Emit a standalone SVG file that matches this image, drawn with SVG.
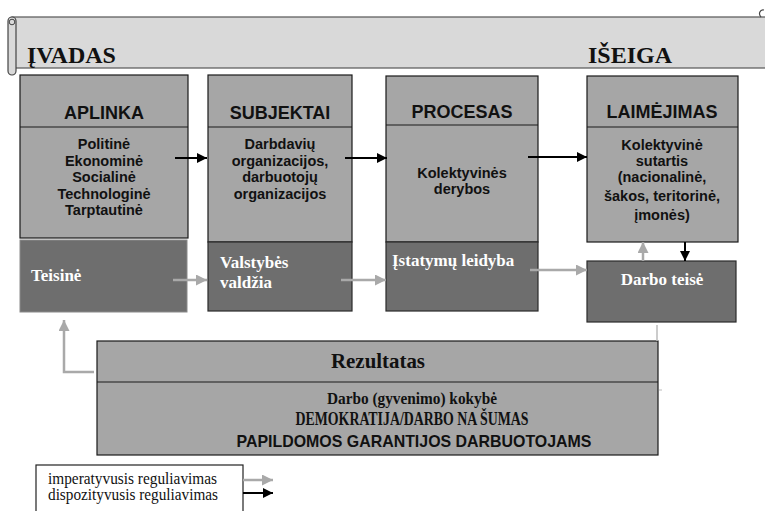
<svg xmlns="http://www.w3.org/2000/svg" width="765" height="511" viewBox="0 0 765 511">
<defs>
<style>
.light{fill:#a6a6a6;stroke:#1a1a1a;stroke-width:1.2}
.dark{fill:#6e6e6e;stroke:#2a2a2a;stroke-width:1.2}
.div{stroke:#1a1a1a;stroke-width:1.2}
.hd{font-family:"Liberation Sans",Arial,sans-serif;font-weight:bold;font-size:18px;fill:#111;text-anchor:middle}
.bd{font-family:"Liberation Sans",Arial,sans-serif;font-weight:bold;font-size:14.5px;fill:#111;text-anchor:middle}
.wt{font-family:"Liberation Serif","Times New Roman",serif;font-weight:bold;font-size:17px;fill:#fff}
.ti{font-family:"Liberation Serif","Times New Roman",serif;font-weight:bold;font-size:24px;fill:#111}
.sr{font-family:"Liberation Serif","Times New Roman",serif;fill:#111}
.blk{stroke:#000;stroke-width:2;fill:none}
.gry{stroke:#a9a9a9;stroke-width:2.5;fill:none}
</style>
<marker id="ab" viewBox="0 0 10 10" refX="10" refY="5" markerWidth="10" markerHeight="10" markerUnits="userSpaceOnUse" orient="auto"><path d="M0,0 L10,5 L0,10 z" fill="#000"/></marker>
<marker id="ag" viewBox="0 0 10 10" refX="10" refY="5" markerWidth="11" markerHeight="11" markerUnits="userSpaceOnUse" orient="auto"><path d="M0,0 L10,5 L0,10 z" fill="#a9a9a9"/></marker>
</defs>

<g id="banner">
<rect x="12" y="17" width="760" height="51" fill="#d9d9d9" stroke="#555" stroke-width="1.2"/>
<rect x="8" y="17" width="8" height="58" rx="4" fill="#d9d9d9" stroke="#444" stroke-width="1.2"/>
<circle cx="12" cy="22" r="2.8" fill="#d9d9d9" stroke="#444" stroke-width="1"/>
<path d="M761,17 C758,14 760,9 764,10" fill="none" stroke="#444" stroke-width="1.2"/>
<text class="ti" x="27" y="63">ĮVADAS</text>
<text class="ti" x="588" y="63">IŠEIGA</text>
</g>

<g id="aplinka">
<rect class="light" x="20" y="75" width="168" height="163"/>
<line class="div" x1="20" y1="127" x2="188" y2="127"/>
<text class="hd" x="104" y="119">APLINKA</text>
<text class="bd" x="104" y="149">Politinė</text>
<text class="bd" x="104" y="166">Ekonominė</text>
<text class="bd" x="104" y="182">Socialinė</text>
<text class="bd" x="104" y="199">Technologinė</text>
<text class="bd" x="104" y="215">Tarptautinė</text>
</g>

<g id="teisine">
<rect x="20" y="240" width="167" height="72" fill="#6e6e6e" stroke="#8a8a8a" stroke-width="1"/>
<text class="wt" x="31" y="281">Teisinė</text>
</g>

<g id="subjektai">
<rect class="light" x="208" y="75" width="144" height="167"/>
<line class="div" x1="208" y1="127" x2="352" y2="127"/>
<text class="hd" x="280" y="119">SUBJEKTAI</text>
<text class="bd" x="280" y="149">Darbdavių</text>
<text class="bd" x="280" y="166">organizacijos,</text>
<text class="bd" x="280" y="182">darbuotojų</text>
<text class="bd" x="280" y="199">organizacijos</text>
</g>

<g id="valstybes">
<rect class="dark" x="208" y="242" width="144" height="69"/>
<text class="wt" x="220" y="268">Valstybės</text>
<text class="wt" x="220" y="288">valdžia</text>
</g>

<g id="procesas">
<rect class="light" x="386" y="76" width="152" height="166"/>
<line class="div" x1="386" y1="125" x2="538" y2="125"/>
<text class="hd" x="462" y="118">PROCESAS</text>
<text class="bd" x="462" y="178">Kolektyvinės</text>
<text class="bd" x="462" y="194">derybos</text>
</g>

<g id="istatymu">
<rect class="dark" x="386" y="242" width="152" height="69"/>
<text class="wt" x="392" y="266">Įstatymų leidyba</text>
</g>

<g id="laimejimas">
<rect class="light" x="587" y="76" width="151" height="166"/>
<line class="div" x1="587" y1="127" x2="738" y2="127"/>
<text class="hd" x="662" y="118">LAIMĖJIMAS</text>
<text class="bd" x="662" y="150">Kolektyvinė</text>
<text class="bd" x="662" y="166">sutartis</text>
<text class="bd" x="662" y="182">(nacionalinė,</text>
<text class="bd" x="662" y="201">šakos, teritorinė,</text>
<text class="bd" x="662" y="220">įmonės)</text>
</g>

<g id="darbo-teise">
<rect class="dark" x="587" y="261" width="149" height="61"/>
<text class="wt" x="662" y="285" text-anchor="middle">Darbo teisė</text>
</g>

<g id="rezultatas">
<rect class="light" x="97" y="341" width="561" height="114"/>
<line class="div" x1="97" y1="382" x2="658" y2="382"/>
<text class="sr" x="378" y="368" text-anchor="middle" font-weight="bold" font-size="21" textLength="94" lengthAdjust="spacingAndGlyphs">Rezultatas</text>
<text class="sr" x="412" y="404" text-anchor="middle" font-weight="bold" font-size="17" textLength="170" lengthAdjust="spacingAndGlyphs">Darbo (gyvenimo) kokybė</text>
<text class="sr" x="412" y="425" text-anchor="middle" font-weight="bold" font-size="18" textLength="233" lengthAdjust="spacingAndGlyphs">DEMOKRATIJA/DARBO NA ŠUMAS</text>
<text x="414" y="447" text-anchor="middle" font-family="Liberation Sans, Arial, sans-serif" font-weight="bold" font-size="17" fill="#111" textLength="355" lengthAdjust="spacingAndGlyphs">PAPILDOMOS GARANTIJOS DARBUOTOJAMS</text>
</g>

<g id="legend">
<rect x="36" y="465" width="207" height="50" fill="#fff" stroke="#222" stroke-width="1.2"/>
<text class="sr" x="48" y="484" font-size="16" textLength="169" lengthAdjust="spacingAndGlyphs">imperatyvusis reguliavimas</text>
<text class="sr" x="48" y="500" font-size="16" textLength="170" lengthAdjust="spacingAndGlyphs">dispozityvusis reguliavimas</text>
</g>

<g id="connectors">
<line class="blk" x1="175" y1="158" x2="207" y2="158" marker-end="url(#ab)"/>
<line class="blk" x1="345" y1="158" x2="387" y2="158" marker-end="url(#ab)"/>
<line class="blk" x1="528" y1="157" x2="587" y2="157" marker-end="url(#ab)"/>
<line class="gry" x1="173" y1="280" x2="207" y2="280" marker-end="url(#ag)"/>
<line class="gry" x1="341" y1="280" x2="386" y2="280" marker-end="url(#ag)"/>
<line class="gry" x1="530" y1="270" x2="587" y2="270" marker-end="url(#ag)"/>
<line class="gry" x1="643" y1="261" x2="643" y2="242" marker-end="url(#ag)"/>
<line class="blk" x1="685" y1="242" x2="685" y2="261" marker-end="url(#ab)"/>
<line x1="657" y1="325" x2="657" y2="341" stroke="#bbb" stroke-width="1.5"/>
<line x1="659" y1="390" x2="662" y2="390" stroke="#bbb" stroke-width="1"/>
<polyline class="gry" points="94,372 64,372 64,320" marker-end="url(#ag)"/>
<line class="gry" x1="243" y1="480" x2="273" y2="480" marker-end="url(#ag)"/>
<line class="blk" x1="243" y1="493" x2="273" y2="493" marker-end="url(#ab)"/>
</g>
</svg>
